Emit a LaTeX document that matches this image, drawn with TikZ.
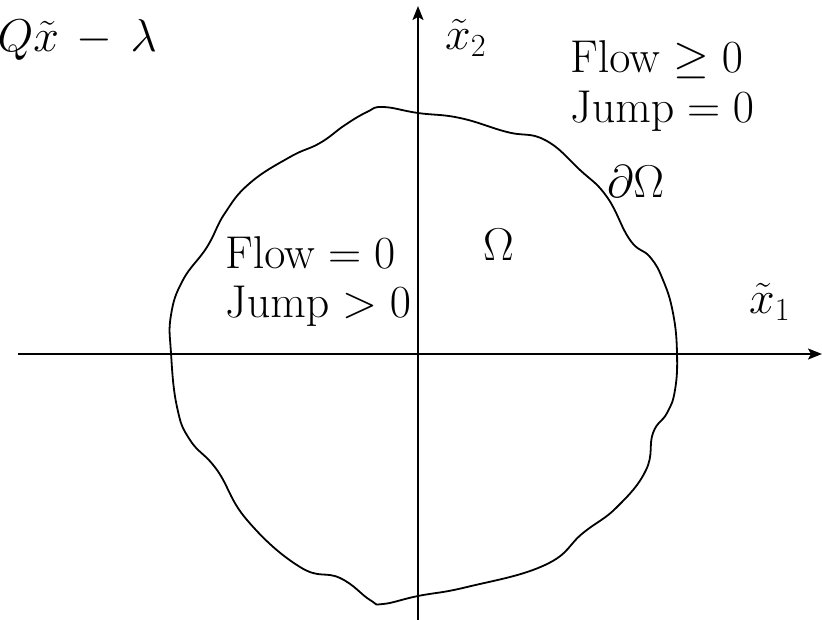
\documentclass[tikz,border=0pt]{standalone}
\usepackage{fix-cm}
\usepackage{amsmath}
\usetikzlibrary{arrows.meta}
\begin{document}
\begin{tikzpicture}[x=1pt,y=-1pt,
  lbl/.style={inner sep=0pt,font=\fontsize{46}{55}\selectfont},
  axis/.style={line width=1.8pt,-{Stealth[length=14pt,width=11pt,inset=3pt]}},
  boundary/.style={line width=1.8pt}]
\useasboundingbox (0,0) rectangle (822,620);
\clip (0,0) rectangle (822,620);
% axes
\coordinate (xs) at (18,354);
\coordinate (xe) at (822,354);
\coordinate (ys) at (418,620);
\coordinate (ye) at (418,6);
\draw[axis] (xs) -- (xe);
\draw[axis] (ys) -- (ye);
% boundary curve
\draw[boundary] plot[smooth cycle, tension=0.75] coordinates {
(383,107) (418,113) (460,118) (507,132) (545,140) (580,170)
(607,197) (630,240) (650,257) (663,280) (673,313) (677,353)
(675,390) (667,413) (653,433) (646,470) (617,507)
(583,533) (545,565) (467,587) (418,596) (383,604) (370,600)
(340,578) (300,567) (247,520) (217,470)
(190,440) (177,407) (171,353) (171,315) (183,280)
(207,247) (225,213) (250,183) (290,157)
(320,143) (345,125) (367,112)};
% labels
\node[lbl,anchor=base east] (eq) at (157,52) {$Q\tilde{x}\mskip3mu-\mskip3mu\lambda$};
\node[lbl,anchor=base west] (x2) at (445,50) {$\tilde{x}_2$};
\node[lbl,anchor=base west] (x1) at (749,314) {$\tilde{x}_1$};
\node[lbl,anchor=base west] (fa) at (570,73) {$\mathrm{Flow}\geq 0$};
\node[lbl,anchor=base west] (ja) at (570,123) {$\mathrm{Jump}=0$};
\node[lbl,anchor=base west] (dO) at (607,198) {$\partial\Omega$};
\node[lbl,anchor=base west] (O) at (483,261) {$\Omega$};
\node[lbl,anchor=base west] (fb) at (225,269) {$\mathrm{Flow}=0$};
\node[lbl,anchor=base west] (jb) at (225,318) {$\mathrm{Jump}>0$};
\end{tikzpicture}
\end{document}
